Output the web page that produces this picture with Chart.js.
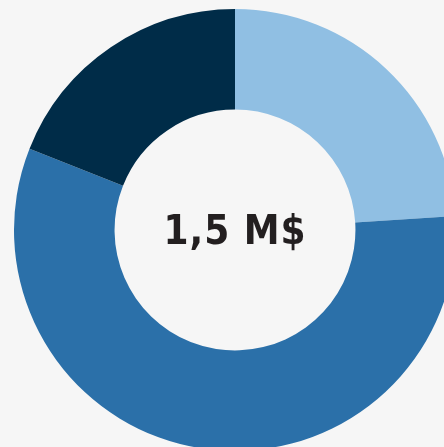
<!DOCTYPE html>
<html>
<head>
<meta charset="utf-8">
<script src="https://cdn.jsdelivr.net/npm/chart.js@4"></script>
<style>
  html, body { margin: 0; padding: 0; background: #f6f6f6; width: 444px; height: 447px; overflow: hidden; }
  #wrap { position: absolute; left: 14px; top: 9px; width: 442px; height: 442px; }
  #center {
    position: absolute; left: 135px; top: 230px; transform: translate(0, -50%);
    width: 200px; text-align: center;
    font-family: "DejaVu Sans Condensed", "DejaVu Sans", sans-serif; font-weight: bold;
    font-size: 40px; color: #231f20; letter-spacing: 1px;
  }
</style>
</head>
<body>
<div id="wrap"><canvas id="chart" width="442" height="442"></canvas></div>
<div id="center">1,5 M$</div>
<script>
// segment values, read clockwise from 12 o'clock
const labels = ['Segment A', 'Segment B', 'Segment C'];
const values = [24, 57, 19];
const colors = ['#90bfe3', '#2b70a9', '#002c48'];

const canvas = document.getElementById('chart');
new Chart(canvas, {
  type: 'doughnut',
  data: {
    labels: labels,
    datasets: [{ data: values, backgroundColor: colors, borderWidth: 0, hoverOffset: 0 }]
  },
  options: {
    responsive: false,
    animation: false,
    cutout: '54.5%',
    layout: { padding: 0 },
    plugins: { legend: { display: false }, tooltip: { enabled: false } }
  }
});
</script>
</body>
</html>
